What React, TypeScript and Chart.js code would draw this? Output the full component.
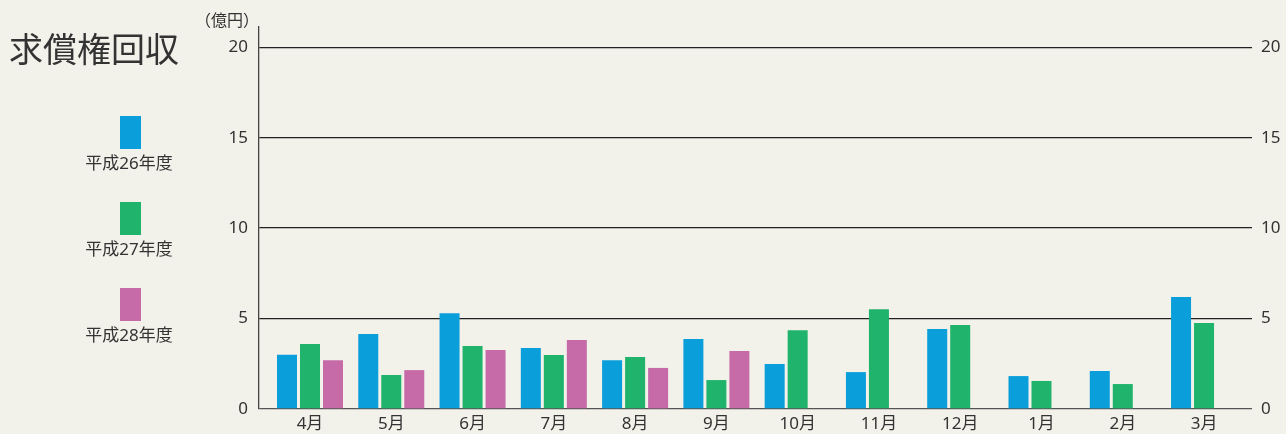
import React, { useEffect, useRef } from "react";
import { Chart, registerables } from "chart.js";

Chart.register(...registerables);

const title = "求償権回収";
const unitLabel = "（億円）";
const months = ["4月", "5月", "6月", "7月", "8月", "9月", "10月", "11月", "12月", "1月", "2月", "3月"];
const seriesNames = ["平成26年度", "平成27年度", "平成28年度"];
const seriesColors = ["#0a9edb", "#20b36b", "#c66ba8"];
const fy26 = [3.0, 4.15, 5.3, 3.37, 2.7, 3.87, 2.49, 2.04, 4.42, 1.82, 2.1, 6.19];
const fy27 = [3.59, 1.88, 3.48, 2.98, 2.87, 1.6, 4.36, 5.52, 4.64, 1.55, 1.38, 4.75];
const fy28 = [2.7, 2.15, 3.26, 3.81, 2.27, 3.2, null, null, null, null, null, null];
const yTicks = [0, 5, 10, 15, 20];

const FONT = "'Noto Sans', 'Noto Sans CJK JP', sans-serif";
const TEXT = "#333333";
const BG = "#f2f1ea";

export default function App() {
  const ref = useRef<HTMLCanvasElement | null>(null);

  useEffect(() => {
    document.body.style.margin = "0";
    document.body.style.background = BG;
    const series = [fy26, fy27, fy28];
    const chart = new Chart(ref.current!, {
      type: "bar",
      data: {
        datasets: series.map((arr, k) => ({
          label: seriesNames[k],
          data: arr.map((v, i) => ({ x: i, y: v })),
          backgroundColor: seriesColors[k],
          borderWidth: 0,
          categoryPercentage: 0.849,
          barPercentage: 0.8696,
        })),
      },
      options: {
        animation: false,
        responsive: false,
        layout: { padding: { top: 27, left: 0, right: 0, bottom: 0 } },
        plugins: { legend: { display: false }, tooltip: { enabled: false } },
        scales: {
          x: {
            type: "linear",
            offset: false,
            min: -0.6275,
            max: 11.59,
            grid: { display: false, drawTicks: false },
            border: { display: false },
            afterBuildTicks: (s: any) => {
              s.ticks = months.map((_, i) => ({ value: i }));
            },
            afterFit: (s: any) => {
              s.height = 25;
            },
            ticks: {
              autoSkip: false,
              maxRotation: 0,
              padding: 5,
              color: TEXT,
              font: { family: FONT, size: 17 },
              callback: (v: any) => months[v as number] ?? "",
            },
          },
          y: {
            position: "left",
            min: 0,
            max: 21.12,
            afterBuildTicks: (s: any) => {
              s.ticks = yTicks.map((v) => ({ value: v }));
            },
            afterFit: (s: any) => {
              s.width = 259;
            },
            grid: {
              drawTicks: false,
              color: (ctx: any) => (ctx.tick && ctx.tick.value === 0 ? "#555555" : "#222222"),
              lineWidth: 1.3,
            },
            border: { display: true, color: "#444444", width: 1.3 },
            ticks: { padding: 11, color: TEXT, font: { family: FONT, size: 17 } },
          },
          y2: {
            position: "right",
            min: 0,
            max: 21.12,
            afterBuildTicks: (s: any) => {
              s.ticks = yTicks.map((v) => ({ value: v }));
            },
            afterFit: (s: any) => {
              s.width = 34;
            },
            grid: { display: false, drawTicks: false },
            border: { display: false },
            ticks: { padding: 9, color: TEXT, font: { family: FONT, size: 17 } },
          },
        },
      },
    });
    return () => chart.destroy();
  }, []);

  return (
    <div
      style={{
        position: "absolute",
        left: 0,
        top: 0,
        width: 1286,
        height: 434,
        background: BG,
        fontFamily: FONT,
        color: TEXT,
        overflow: "hidden",
      }}
    >
      <canvas ref={ref} width={1286} height={434} style={{ position: "absolute", left: 0, top: 0 }} />
      <div style={{ position: "absolute", left: 9, top: 32, fontSize: 34, lineHeight: "34px", whiteSpace: "nowrap" }}>
        {title}
      </div>
      <div style={{ position: "absolute", left: 195, top: 10, fontSize: 16, lineHeight: "20px", whiteSpace: "nowrap" }}>
        {unitLabel}
      </div>
      {seriesNames.map((name, k) => (
        <div
          key={name}
          style={{ position: "absolute", left: 79, top: 116 + 86 * k, width: 100, textAlign: "center" }}
        >
          <div style={{ width: 21, height: 33, background: seriesColors[k], margin: "0 0 0 41px" }} />
          <div style={{ fontSize: 17, lineHeight: "20px", marginTop: 4, whiteSpace: "nowrap" }}>{name}</div>
        </div>
      ))}
    </div>
  );
}
